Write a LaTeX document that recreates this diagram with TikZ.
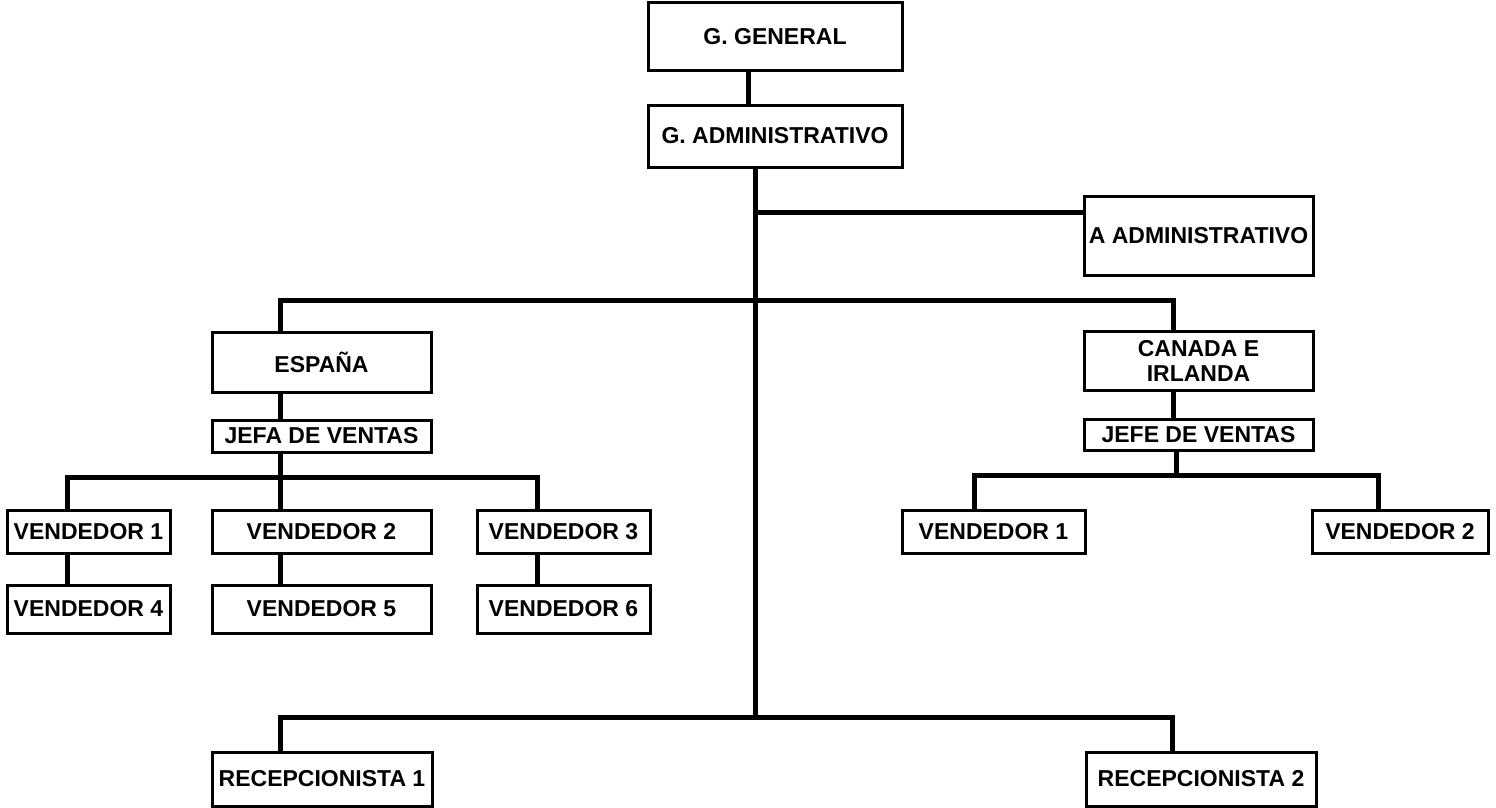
\documentclass[tikz,border=0pt]{standalone}
\usepackage{fontspec}
\setmainfont{Liberation Sans}
\begin{document}
\begin{tikzpicture}[x=1pt,y=-1pt,
  box/.style={draw=black,line width=3pt,fill=white,inner sep=0pt,align=center,
    font=\fontsize{23}{25}\selectfont\bfseries},
  conn/.style={draw=black,line width=5pt,line join=miter,line cap=rect}]
\useasboundingbox[fill=white] (0,0) rectangle (1496,808);
% junction coordinates
\coordinate (tgx) at (748,0);
\coordinate (ja) at (755,212);
\coordinate (jb) at (755,717);
\coordinate (sL) at (280,300);
\coordinate (sR) at (1173,300);
\coordinate (gs) at (280,477);
\coordinate (gsL) at (67,477);
\coordinate (gsR) at (537,477);
\coordinate (gc) at (1176,475);
\coordinate (gcL) at (974,475);
\coordinate (gcR) at (1378,475);
\coordinate (bL) at (280,717);
\coordinate (bR) at (1172,717);
% nodes
\node[box,minimum width=254pt,minimum height=68pt] (gg) at (775,37) {G. GENERAL};
\node[box,minimum width=254pt,minimum height=62pt] (ga) at (775,136) {G. ADMINISTRATIVO};
\node[box,minimum width=229pt,minimum height=79pt] (aa) at (1198.5,235.5) {A ADMINISTRATIVO};
\node[box,minimum width=219pt,minimum height=60pt] (es) at (321.5,362) {ESPAÑA};
\node[box,minimum width=219pt,minimum height=32pt] (jfa) at (321.5,436) {JEFA DE VENTAS};
\node[box,minimum width=229pt,minimum height=59pt] (ca) at (1198.5,360.5) {CANADA E\\IRLANDA};
\node[box,minimum width=229pt,minimum height=31pt] (jfe) at (1198.5,434.5) {JEFE DE VENTAS};
\node[box,minimum width=163pt,minimum height=43pt] (v1) at (88.5,531.5) {VENDEDOR 1};
\node[box,minimum width=219pt,minimum height=43pt] (v2) at (321.5,531.5) {VENDEDOR 2};
\node[box,minimum width=173pt,minimum height=43pt] (v3) at (563.5,531.5) {VENDEDOR 3};
\node[box,minimum width=163pt,minimum height=48pt] (v4) at (88.5,609) {VENDEDOR 4};
\node[box,minimum width=219pt,minimum height=48pt] (v5) at (321.5,609) {VENDEDOR 5};
\node[box,minimum width=173pt,minimum height=48pt] (v6) at (563.5,609) {VENDEDOR 6};
\node[box,minimum width=183pt,minimum height=43pt] (cv1) at (993.5,531.5) {VENDEDOR 1};
\node[box,minimum width=176pt,minimum height=43pt] (cv2) at (1400,531.5) {VENDEDOR 2};
\node[box,minimum width=220pt,minimum height=54pt] (r1) at (322,779) {RECEPCIONISTA 1};
\node[box,minimum width=230pt,minimum height=54pt] (r2) at (1201,779) {RECEPCIONISTA 2};
% connectors
\draw[conn] (gg.south -| tgx) -- (ga.north -| tgx);
\draw[conn] (ga.south -| jb) -- (jb);
\draw[conn] (ja) -- (aa.west |- ja);
\draw[conn] (es.north -| sL) -- (sL) -- (sR) -- (ca.north -| sR);
\draw[conn] (es.south -| sL) -- (jfa.north -| sL);
\draw[conn] (jfa.south -| gs) -- (v2.north -| gs);
\draw[conn] (v1.north -| gsL) -- (gsL) -- (gsR) -- (v3.north -| gsR);
\draw[conn] (v1.south -| gsL) -- (v4.north -| gsL);
\draw[conn] (v2.south -| gs) -- (v5.north -| gs);
\draw[conn] (v3.south -| gsR) -- (v6.north -| gsR);
\draw[conn] (ca.south -| sR) -- (jfe.north -| sR);
\draw[conn] (jfe.south -| gc) -- (gc);
\draw[conn] (cv1.north -| gcL) -- (gcL) -- (gcR) -- (cv2.north -| gcR);
\draw[conn] (r1.north -| bL) -- (bL) -- (bR) -- (r2.north -| bR);
\end{tikzpicture}
\end{document}
